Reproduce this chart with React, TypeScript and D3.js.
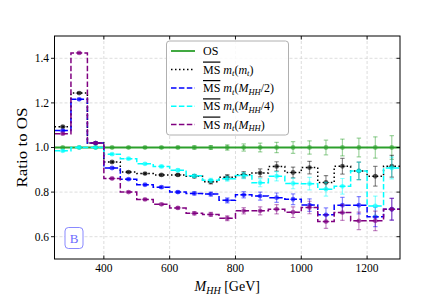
import * as React from "react";
import * as d3 from "d3";

// bin edges 250..1300, 50 GeV wide
const edges = d3.range(250, 1301, 50);
const centers = edges.slice(0, -1).map((e) => e + 25);

const osVals = [1, 1, 1, 1, 1, 1, 1, 1, 1, 1, 1, 1, 1, 1, 1, 1, 1, 1, 1, 1, 1];
const mtmtVals = [1.093, 1.244, 1.02, 0.935, 0.89, 0.883, 0.877, 0.877, 0.871, 0.846, 0.867, 0.878, 0.886, 0.915, 0.888, 0.91, 0.843, 0.916, 0.895, 0.871, 0.916];
const mhh2Vals = [1.076, 1.216, 1.02, 0.908, 0.858, 0.833, 0.822, 0.8, 0.794, 0.791, 0.763, 0.788, 0.782, 0.775, 0.768, 0.742, 0.698, 0.741, 0.741, 0.689, 0.723];
const mhh4Vals = [0.985, 1.0, 1.0, 0.97, 0.95, 0.927, 0.915, 0.898, 0.873, 0.853, 0.86, 0.874, 0.842, 0.871, 0.839, 0.838, 0.813, 0.826, 0.895, 0.738, 0.908];
const mhhVals = [1.062, 1.424, 1.02, 0.861, 0.8, 0.767, 0.745, 0.729, 0.705, 0.7, 0.683, 0.716, 0.716, 0.723, 0.71, 0.731, 0.668, 0.708, 0.671, 0.671, 0.723];

const errOS = [0.003, 0.003, 0.003, 0.003, 0.004, 0.004, 0.004, 0.005, 0.007, 0.009, 0.012, 0.016, 0.02, 0.023, 0.026, 0.03, 0.033, 0.038, 0.042, 0.048, 0.053];
const errMS = [0.004, 0.004, 0.003, 0.004, 0.004, 0.004, 0.005, 0.006, 0.007, 0.009, 0.011, 0.014, 0.018, 0.021, 0.024, 0.028, 0.031, 0.035, 0.039, 0.044, 0.049];

const xTicks = [400, 600, 800, 1000, 1200];
const yTicks = [0.6, 0.8, 1.0, 1.2, 1.4];

// legend pieces: [text, italic, subscript]
const legendParts: [string, boolean, boolean][][] = [
  [["OS", false, false]],
  [["m", true, false], ["t", true, true], ["(", false, false], ["m", true, false], ["t", true, true], [")", false, false]],
  [["m", true, false], ["t", true, true], ["(", false, false], ["M", true, false], ["HH", true, true], ["/2)", false, false]],
  [["m", true, false], ["t", true, true], ["(", false, false], ["M", true, false], ["HH", true, true], ["/4)", false, false]],
  [["m", true, false], ["t", true, true], ["(", false, false], ["M", true, false], ["HH", true, true], [")", false, false]],
];

const series = [
  { key: "os", vals: osVals, err: errOS, color: "#2ca02c", dash: "", width: 1.8 },
  { key: "mtmt", vals: mtmtVals, err: errMS, color: "#000000", dash: "1.5,2.5", width: 1.5 },
  { key: "mhh2", vals: mhh2Vals, err: errMS, color: "#0000ff", dash: "5.5,2.4", width: 1.5 },
  { key: "mhh4", vals: mhh4Vals, err: errMS, color: "#00ffff", dash: "5.5,2.4", width: 1.5 },
  { key: "mhh", vals: mhhVals, err: errMS, color: "#800080", dash: "5.5,2.4", width: 1.5 },
];

const font = "'Liberation Serif', 'DejaVu Serif', serif";

const renderLabel = (i: number) => {
  const parts = legendParts[i];
  const out: any[] = [];
  if (i > 0) {
    out.push(
      <tspan key="ms" textDecoration="overline">MS</tspan>
    );
  }
  let shifted = false;
  parts.forEach(([txt, it, sub], j) => {
    let dy = 0;
    if (sub && !shifted) { dy = 2.5; shifted = true; }
    else if (!sub && shifted) { dy = -2.5; shifted = false; }
    const lead = i > 0 && j === 0 ? "\u00a0" : "";
    out.push(
      <tspan
        key={j}
        dy={dy || undefined}
        fontStyle={it ? "italic" : undefined}
        fontSize={sub ? 8.5 : undefined}
      >
        {lead + txt}
      </tspan>
    );
  });
  return out;
};

export default function App() {
  const W = 444, H = 305;
  const L = 54.5, R = 400, T = 36, B = 259;
  const x = d3.scaleLinear().domain([250, 1300]).range([L, R]);
  const y = d3.scaleLinear().domain([0.5, 1.5]).range([B, T]);

  const step = d3
    .line<[number, number]>()
    .x((d) => x(d[0]))
    .y((d) => y(d[1]))
    .curve(d3.curveStepAfter);

  const stepPts = (vals: number[]): [number, number][] => [
    ...vals.map((v, i) => [edges[i], v] as [number, number]),
    [edges[edges.length - 1], vals[vals.length - 1]],
  ];

  const legendRows = [51, 69.5, 88, 106.3, 124.5];

  return (
    <svg width={W} height={H} style={{ position: "absolute", left: 0, top: 0 }} fontFamily={font}>
      <rect width={W} height={H} fill="#fff" />
      <defs>
        <clipPath id="plot">
          <rect x={L} y={T} width={R - L} height={B - T} />
        </clipPath>
      </defs>
      {/* grid */}
      <g stroke="#d4d4d4" strokeWidth={0.8} strokeDasharray="3,2">
        {xTicks.map((t) => (
          <line key={t} x1={x(t)} x2={x(t)} y1={T} y2={B} />
        ))}
        {yTicks.map((t) => (
          <line key={t} x1={L} x2={R} y1={y(t)} y2={y(t)} />
        ))}
      </g>
      {/* series */}
      <g clipPath="url(#plot)">
        {series.map((s) => (
          <g key={s.key}>
            <path
              d={step(stepPts(s.vals)) || ""}
              fill="none"
              stroke={s.color}
              strokeWidth={s.width}
              strokeDasharray={s.dash || undefined}
            />
            {s.vals.map((v, i) => {
              const cx = x(centers[i]);
              const e = s.err[i];
              return (
                <g key={i}>
                  <g stroke={s.color} strokeOpacity={0.45} strokeWidth={1.2}>
                    <line x1={cx} x2={cx} y1={y(v - e)} y2={y(v + e)} />
                    <line x1={cx - 2.2} x2={cx + 2.2} y1={y(v - e)} y2={y(v - e)} />
                    <line x1={cx - 2.2} x2={cx + 2.2} y1={y(v + e)} y2={y(v + e)} />
                    <line x1={cx - 3.5} x2={cx + 3.5} y1={y(v)} y2={y(v)} />
                  </g>
                  <circle cx={cx} cy={y(v)} r={2.4} fill={s.color} fillOpacity={0.6} />
                </g>
              );
            })}
          </g>
        ))}
      </g>
      {/* spines */}
      <rect x={L} y={T} width={R - L} height={B - T} fill="none" stroke="#000" strokeWidth={1} />
      {/* ticks */}
      <g stroke="#000" strokeWidth={0.9}>
        {xTicks.map((t) => (
          <g key={t}>
            <line x1={x(t)} x2={x(t)} y1={B} y2={B - 3.5} />
            <line x1={x(t)} x2={x(t)} y1={T} y2={T + 3.5} />
          </g>
        ))}
        {yTicks.map((t) => (
          <g key={t}>
            <line x1={L} x2={L - 3.5} y1={y(t)} y2={y(t)} />
            <line x1={R} x2={R - 3.5} y1={y(t)} y2={y(t)} />
          </g>
        ))}
      </g>
      <g fontSize={11.5} fill="#000">
        {xTicks.map((t) => (
          <text key={t} x={x(t)} y={271.5} textAnchor="middle">
            {t}
          </text>
        ))}
        {yTicks.map((t) => (
          <text key={t} x={49} y={y(t) + 3.8} textAnchor="end">
            {t.toFixed(1)}
          </text>
        ))}
      </g>
      {/* axis labels */}
      <text
        transform={`translate(27,${(T + B) / 2}) rotate(-90)`}
        textAnchor="middle"
        fontSize={14}
        textLength={80}
        lengthAdjust="spacingAndGlyphs"
      >
        Ratio to OS
      </text>
      <text x={(L + R) / 2} y={291} textAnchor="middle" fontSize={14}>
        <tspan fontStyle="italic">M</tspan>
        <tspan dy={3} fontSize={10} fontStyle="italic">HH</tspan>
        <tspan dy={-3}>{"\u00a0[GeV]"}</tspan>
      </text>
      {/* legend */}
      <g>
        <rect x={166.5} y={41} width={122} height={94} rx={3} fill="#fff" fillOpacity={0.85} stroke="#b0b0b0" strokeWidth={1} />
        {series.map((s, i) => (
          <g key={s.key}>
            <line
              x1={171}
              x2={195}
              y1={legendRows[i]}
              y2={legendRows[i]}
              stroke={s.color}
              strokeWidth={s.width}
              strokeDasharray={s.dash || undefined}
            />
            <text x={203} y={legendRows[i] + 4} fontSize={12}>
              {renderLabel(i)}
            </text>
          </g>
        ))}
      </g>
      {/* B label */}
      <rect x={65} y={227.5} width={18} height={21} rx={3.5} fill="#fff" stroke="#6b6bff" strokeOpacity={0.8} strokeWidth={1} />
      <text x={74} y={243} textAnchor="middle" fontSize={13} fill="#6b6bff">
        B
      </text>
    </svg>
  );
}
